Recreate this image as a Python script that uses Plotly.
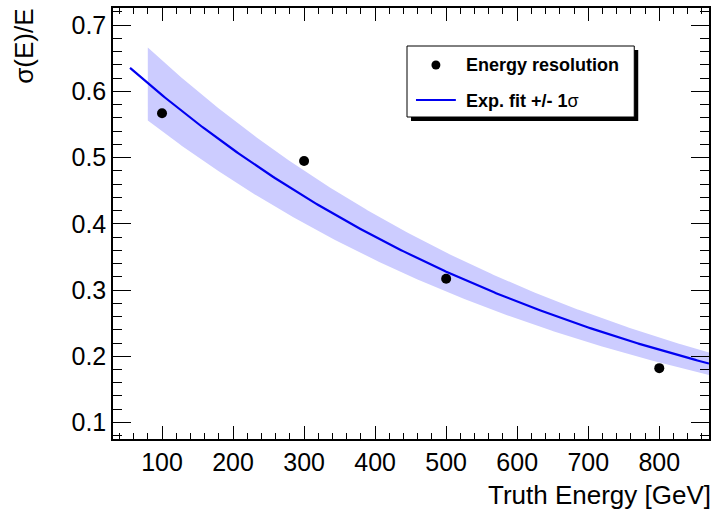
import numpy as np
import plotly.graph_objects as go

# measured data points
energy = [100, 300, 500, 800]
resolution = [0.567, 0.495, 0.317, 0.182]

# exponential fit: sigma/E = exp(p0 + p1*E), with +/- 1 sigma band factors
fit_p0 = -0.3714
fit_p1 = -0.001488
fit_range = [55, 870]
band_range = [80, 870]
band_up_factor = 1.088
band_dn_factor = 0.908

x_title = "Truth Energy [GeV]"
y_title = "σ(E)/E"
legend_labels = ["<b>Energy resolution</b>", "<b>Exp. fit +/- 1</b>σ"]

FONT = "Liberation Sans, Arial, Helvetica, sans-serif"


def fitf(x):
    return np.exp(fit_p0 + fit_p1 * x)


xc = np.linspace(fit_range[0], fit_range[1], 300)
xb = np.linspace(band_range[0], band_range[1], 300)
yb_up = fitf(xb) * band_up_factor
yb_dn = fitf(xb) * band_dn_factor

fig = go.Figure()
fig.add_trace(go.Scatter(
    x=np.concatenate([xb, xb[::-1]]),
    y=np.concatenate([yb_up, yb_dn[::-1]]),
    fill="toself", fillcolor="rgb(204,204,255)",
    line=dict(width=0), mode="lines", hoverinfo="skip", showlegend=False))
fig.add_trace(go.Scatter(
    x=xc, y=fitf(xc), mode="lines",
    line=dict(color="rgb(0,0,240)", width=2.2), showlegend=False))
fig.add_trace(go.Scatter(
    x=energy, y=resolution, mode="markers",
    marker=dict(color="black", size=10), showlegend=False))

W, H = 714, 513
L, R, T, B = 113, 3, 8, 74
pw, ph = W - L - R, H - T - B


def px(xpix):
    return (xpix - L) / pw


def py(ypix):
    return (H - B - ypix) / ph


shapes = []
# legend shadow and box
shapes.append(dict(type="rect", xref="paper", yref="paper",
                   x0=px(412), x1=px(640), y0=py(121), y1=py(50),
                   fillcolor="black", line=dict(width=0), layer="above"))
shapes.append(dict(type="rect", xref="paper", yref="paper",
                   x0=px(408), x1=px(636), y0=py(117), y1=py(46),
                   fillcolor="white", line=dict(color="black", width=1), layer="above"))
shapes.append(dict(type="circle", xref="paper", yref="paper",
                   x0=px(432.5), x1=px(441.5), y0=py(69.5), y1=py(60.5),
                   fillcolor="black", line=dict(width=0), layer="above"))
shapes.append(dict(type="line", xref="paper", yref="paper",
                   x0=px(417), x1=px(457), y0=py(100), y1=py(100),
                   line=dict(color="rgb(0,0,240)", width=2), layer="above"))

annotations = [
    dict(text=legend_labels[0], xref="paper", yref="paper",
         x=px(465), y=py(65), xanchor="left", yanchor="middle", showarrow=False,
         font=dict(family=FONT, size=18, color="black")),
    dict(text=legend_labels[1], xref="paper", yref="paper",
         x=px(465), y=py(101), xanchor="left", yanchor="middle", showarrow=False,
         font=dict(family=FONT, size=18, color="black")),
    dict(text=x_title, xref="paper", yref="paper", x=1.0, y=py(495), xshift=4,
         xanchor="right", yanchor="middle", showarrow=False,
         font=dict(family=FONT, size=26, color="black")),
    dict(text=y_title, xref="paper", yref="paper", x=px(23), y=py(7),
         xanchor="center", yanchor="top", textangle=-90, showarrow=False,
         font=dict(family=FONT, size=26, color="black")),
]

axis_common = dict(
    showline=True, linecolor="black", linewidth=1.5, mirror="allticks",
    ticks="inside", tickcolor="black", tickwidth=1,
    showgrid=False, zeroline=False,
    tickfont=dict(family=FONT, size=25, color="black"),
)

fig.update_layout(
    width=W, height=H,
    margin=dict(l=L, r=R, t=T, b=B, pad=0),
    paper_bgcolor="white", plot_bgcolor="white",
    showlegend=False,
    xaxis=dict(range=[31, 870], tick0=0, dtick=100, ticklen=13,
               minor=dict(ticks="inside", dtick=20, ticklen=6.5, tickcolor="black", tickwidth=1),
               **axis_common),
    yaxis=dict(range=[0.075, 0.726], tick0=0.1, dtick=0.1, ticklen=18,
               minor=dict(ticks="inside", dtick=0.02, ticklen=9, tickcolor="black", tickwidth=1),
               **axis_common),
    shapes=shapes, annotations=annotations,
)

fig.write_html("out.html")
